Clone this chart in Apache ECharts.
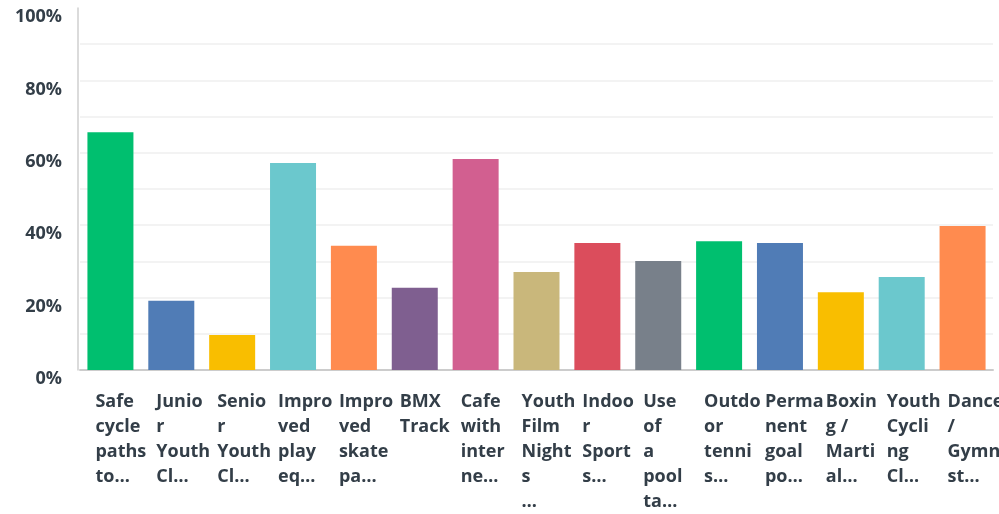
<!DOCTYPE html>
<html>
<head>
<meta charset="utf-8">
<script src="https://cdn.jsdelivr.net/npm/echarts@6/dist/echarts.min.js"></script>
<style>
html,body{margin:0;padding:0;background:#fff;}
#chart{width:999px;height:514px;}
</style>
</head>
<body>
<div id="chart"></div>
<script>
// Category tick labels (as wrapped/truncated in the reference)
const categories = [
  "Safe\ncycle\npaths\nto…",
  "Junio\nr\nYouth\nCl…",
  "Senio\nr\nYouth\nCl…",
  "Impro\nved\nplay\neq…",
  "Impro\nved\nskate\npa…",
  "BMX\nTrack",
  "Cafe\nwith\ninter\nne…",
  "Youth\nFilm\nNight\ns\n…",
  "Indoo\nr\nSport\ns…",
  "Use\nof\na\npool\nta…",
  "Outdo\nor\ntenni\ns…",
  "Perma\nnent\ngoal\npo…",
  "Boxin\ng /\nMarti\nal…",
  "Youth\nCycli\nng\nCl…",
  "Dance\n/\nGymna\nst…"
];
// Percent of respondents
const values = [65.7, 19.1, 9.7, 57.2, 34.3, 22.7, 58.3, 27.1, 35.1, 30.1, 35.6, 35.1, 21.5, 25.7, 39.8];
const barColors = ["#00BF6F","#507CB6","#F9BE00","#6BC8CD","#FF8B4F","#7F5F90","#D25F90","#C9B77B","#DB4D5C","#78808A","#00BF6F","#507CB6","#F9BE00","#6BC8CD","#FF8B4F"];
const yTicks = [0, 20, 40, 60, 80, 100];

const textColor = "#333e48";
const font = "'Open Sans', sans-serif";

const chart = echarts.init(document.getElementById('chart'), null, {renderer: 'canvas'});
chart.setOption({
  animation: false,
  grid: {left: 80, right: 6, top: 8, bottom: 144, containLabel: false, outerBoundsMode: 'none'},
  xAxis: {
    type: 'category',
    data: categories,
    axisLine: {show: true, lineStyle: {color: '#cccccc', width: 2}},
    axisTick: {show: false},
    axisLabel: {
      interval: 0,
      margin: 19,
      align: 'center',
      verticalAlign: 'top',
      width: 30,
      overflow: 'none',
      formatter: function (v) {
        return v.split('\n').map(function (l) { return '{a|' + l + '}'; }).join('\n');
      },
      rich: {
        a: {align: 'left', color: textColor, fontFamily: font, fontWeight: 'bold', fontSize: 18, lineHeight: 25}
      }
    }
  },
  yAxis: {
    type: 'value',
    min: 0, max: 100, interval: 10,
    offset: 2,
    axisLine: {show: true, lineStyle: {color: '#cfcfcf', width: 1.5}},
    axisTick: {show: false},
    splitLine: {show: true, showMaxLine: false, lineStyle: {color: '#efefef', width: 1.5}},
    axisLabel: {
      margin: 16,
      verticalAlign: 'top',
      color: textColor, fontFamily: font, fontWeight: 'bold', fontSize: 18,
      formatter: function (v) { return yTicks.indexOf(v) >= 0 ? v + '%' : ''; }
    }
  },
  series: [{
    type: 'bar',
    data: values.map(function (v, i) { return {value: v, itemStyle: {color: barColors[i]}}; }),
    barWidth: 46
  }]
});
</script>
</body>
</html>
